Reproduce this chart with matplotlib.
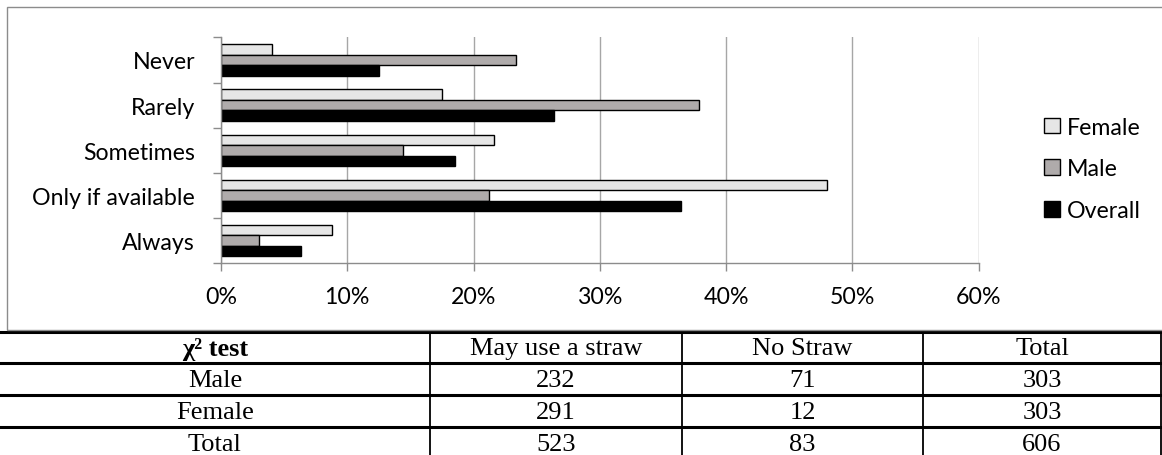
import matplotlib
matplotlib.use("Agg")
import matplotlib.pyplot as plt
import numpy as np
from matplotlib.patches import Rectangle

# Datos del grafico (porcentajes)
categories = ["Never", "Rarely", "Sometimes", "Only if available", "Always"]
female = [4.0, 17.5, 21.6, 48.0, 8.8]
male = [23.4, 37.9, 14.4, 21.2, 3.0]
overall = [12.5, 26.4, 18.5, 36.4, 6.3]
x_ticks = [0, 10, 20, 30, 40, 50, 60]

# Datos de la tabla
table_header = ["χ² test", "May use a straw", "No Straw", "Total"]
table_rows = [
    ["Male", "232", "71", "303"],
    ["Female", "291", "12", "303"],
    ["Total", "523", "83", "606"],
]

W, H = 1162, 456
FS = 16.7
fig = plt.figure(figsize=(W / 100, H / 100), dpi=100)

# Marco gris del grafico
fig.patches.append(Rectangle((7 / W, 1 - 331 / H), (W - 7) / W + 0.01, (331 - 8) / H,
                             transform=fig.transFigure, fill=False,
                             edgecolor="#8c8c8c", linewidth=1.0))

ax = fig.add_axes([221 / W, 1 - 264.3 / H, (978.5 - 221) / W, (264.3 - 38.3) / H])
y = np.arange(len(categories))
h = 0.233
ax.barh(y - h, female, height=h, color="#e6e6e6", edgecolor="black", linewidth=1.0, label="Female")
ax.barh(y, male, height=h, color="#afabab", edgecolor="black", linewidth=1.0, label="Male")
ax.barh(y + h, overall, height=h, color="black", edgecolor="black", linewidth=1.0, label="Overall")

ax.set_xlim(0, 60)
ax.set_ylim(len(categories) - 0.5, -0.5)
ax.set_xticks(x_ticks)
ax.set_xticklabels([f"{v}%" for v in x_ticks])
ax.set_yticks(y)
ax.set_yticklabels(categories)
ax.set_yticks(np.arange(len(categories) + 1) - 0.5, minor=True)
ax.tick_params(axis="y", which="major", length=0, pad=18.7)
ax.tick_params(axis="y", which="minor", length=5.7, color="#8c8c8c", width=1)
ax.tick_params(axis="x", length=5.5, color="#8c8c8c", width=1, pad=11)
for lab in ax.get_xticklabels() + ax.get_yticklabels():
    lab.set_fontfamily("Lato")
    lab.set_fontsize(FS)
ax.grid(axis="x", color="#a6a6a6", linewidth=1)
ax.set_axisbelow(True)
for s in ["top", "right"]:
    ax.spines[s].set_visible(False)
for s in ["left", "bottom"]:
    ax.spines[s].set_color("#8c8c8c")
    ax.spines[s].set_linewidth(1)

fig.legend(loc="center left", bbox_to_anchor=(1044 / W, 1 - 170 / H),
           frameon=False, borderpad=0, borderaxespad=0,
           handlelength=0.68, handleheight=0.68, handletextpad=0.3,
           labelspacing=0.9, prop={"family": "Lato", "size": FS})

# Tabla de chi cuadrado
tax = fig.add_axes([0, 1 - 460 / H, 1, 127.5 / H])
tax.set_xlim(0, W)
tax.set_ylim(4, 0)
tax.axis("off")
col_edges = [0, 430, 682, 923, 1161]
for r in range(4):
    tax.plot([0, W], [r, r], color="black", linewidth=2.2, clip_on=False)
for xe in col_edges[1:]:
    tax.plot([xe, xe], [0, 4], color="black", linewidth=1.3, clip_on=False)
all_rows = [table_header] + table_rows
for r, row in enumerate(all_rows):
    for c, txt in enumerate(row):
        xc = (col_edges[c] + col_edges[c + 1]) / 2
        tax.text(xc, r + 0.52, txt, ha="center", va="center",
                 family="Liberation Serif", fontsize=19,
                 fontweight="bold" if (r == 0 and c == 0) else "normal")

fig.savefig("out.png", dpi=100)
